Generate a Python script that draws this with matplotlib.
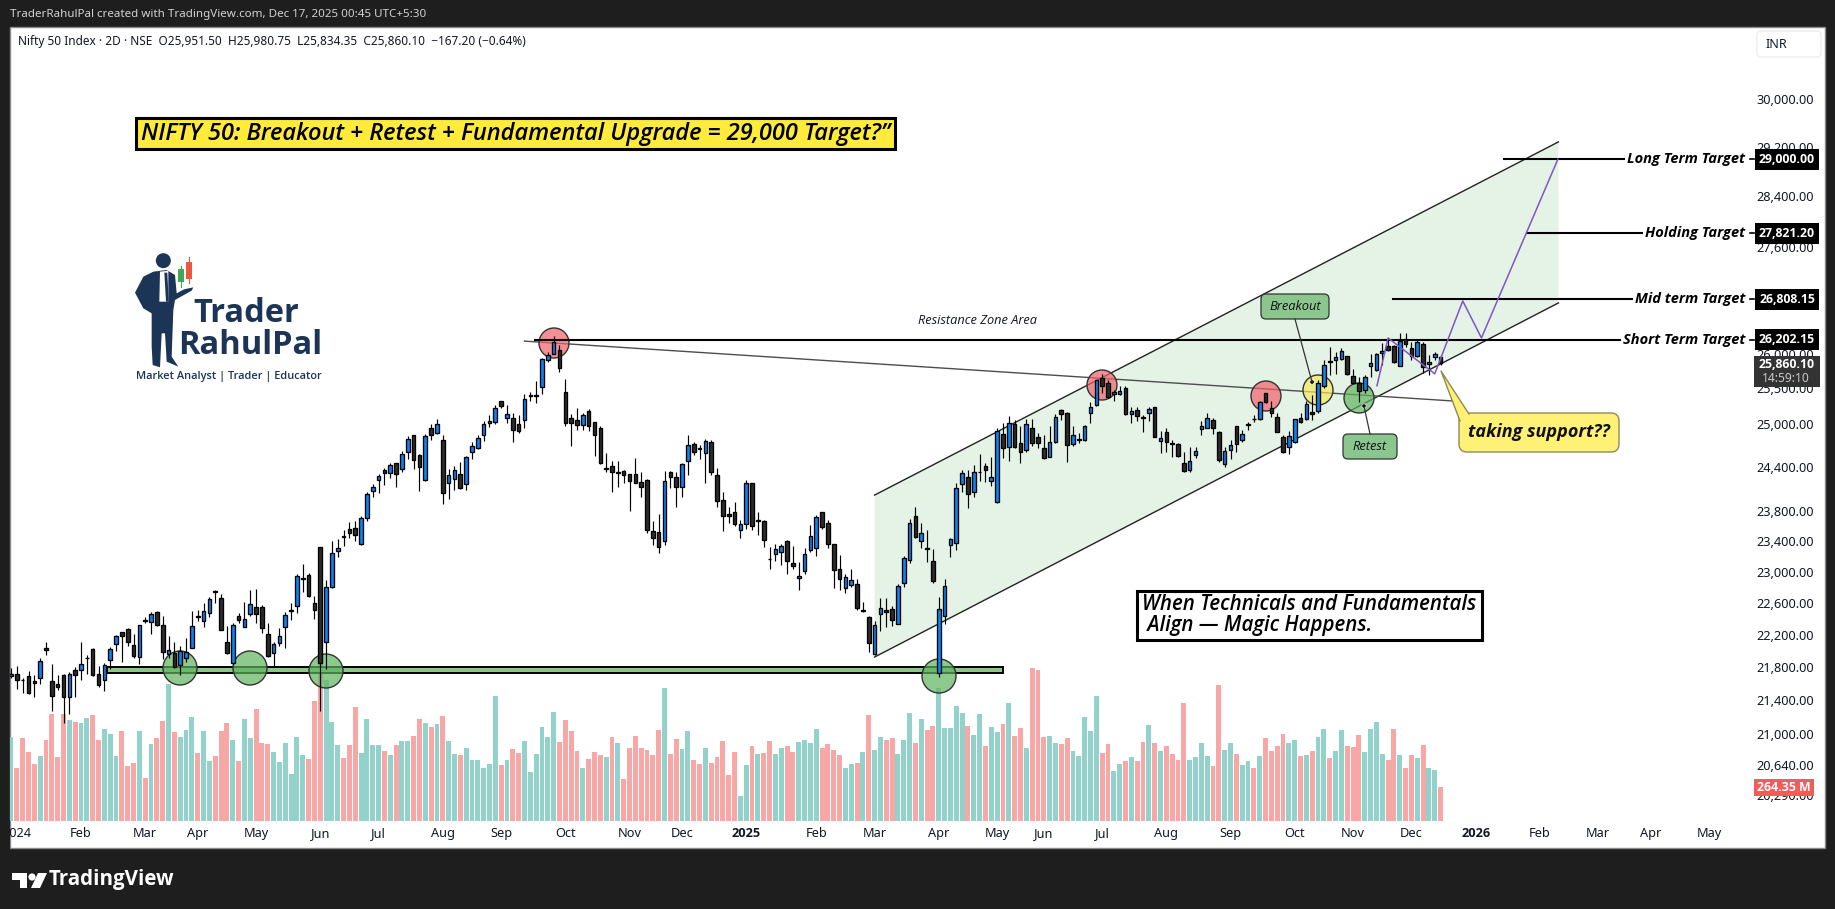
import matplotlib
matplotlib.use("Agg")
import matplotlib.pyplot as plt
import numpy as np
from matplotlib.patches import Circle, Ellipse, FancyBboxPatch, Polygon, Rectangle
from matplotlib.transforms import blended_transform_factory

W, H = 1835, 909
BASE_FONT = ["Noto Sans", "DejaVu Sans"]
NOTE_FONT = ["Open Sans", "DejaVu Sans"]

opens = [
    21700, 21716, 21651, 21691, 21630, 21667, 22034, 21630, 21594, 21704,
    21435, 21765, 21765, 21911, 22021, 21716, 21643, 21887, 22084, 22235,
    22272, 22071, 21923, 22393, 22360, 22485, 22322, 21960, 21972, 21826,
    21911, 22034, 22435, 22372, 22473, 22756, 22661, 22109, 21850, 22435,
    22297, 22460, 22548, 22548, 22210, 21972, 22097, 22297, 22498, 22561,
    22911, 22958, 22598, 23320, 22109, 22803, 23268, 23471, 23559, 23572,
    23360, 23705, 24067, 24217, 24353, 24312, 24449, 24367, 24599, 24837,
    24558, 24217, 24935, 24865, 24767, 24176, 24231, 24299, 24162, 24608,
    24664, 24837, 25001, 25019, 25314, 25071, 25076, 24991, 25043, 25396,
    25396, 25512, 25905, 25992, 26049, 25444, 25076, 25048, 24977, 25174,
    25019, 24935, 24363, 24408, 24317, 24340, 24299, 24299, 24190, 24217,
    23533, 23520, 23400, 24326, 24258, 24122, 24476, 24711, 24655, 24585,
    24739, 24285, 23945, 23759, 23785, 23546, 23626, 24176, 23670, 23666,
    23173, 23229, 23255, 23400, 23113, 22920, 23010, 23281, 23307, 23785,
    23639, 23360, 23036, 22790, 22829, 22842, 22498, 22423, 21960, 22460,
    22510, 22523, 22335, 22855, 23156, 23736, 23405, 23312, 23143, 21732,
    22440, 23351, 23378, 24171, 24258, 24053, 24322, 24408, 24212, 23918,
    24851, 24678, 24991, 24725, 24626, 24935, 24809, 24655, 24540, 24739,
    25188, 25146, 24711, 24776, 24767, 25155, 25258, 25646, 25574, 25420,
    25411, 25502, 25132, 25188, 25094, 25141, 25230, 24762, 24879, 24725,
    24711, 24449, 24349, 24567, 24917, 24944, 25048, 24879, 24444, 24636,
    24963, 24772, 24977, 25066, 25062, 25425, 25216, 25090, 24809, 24669,
    24739, 25076, 25057, 25160, 25174, 25526, 25891, 25915, 25920, 25961,
    25680, 25574, 25478, 25814, 25757, 26006, 26116, 26111, 25819, 26220,
    26076, 25961, 26136, 25848, 25958, 25951.5,
]
closes = [
    21716, 21643, 21643, 21492, 21606, 21875, 22009, 21447, 21557, 21435,
    21716, 21704, 21838, 21919, 21704, 21590, 21826, 22021, 22184, 22193,
    22109, 21936, 22322, 22381, 22460, 22322, 21985, 22009, 21801, 21997,
    21985, 22310, 22427, 22498, 22649, 22747, 22260, 21972, 22322, 22385,
    22397, 22586, 22460, 22285, 21936, 22084, 22184, 22448, 22510, 22945,
    22920, 22687, 22510, 21858, 22803, 23242, 23307, 23453, 23506, 23480,
    23705, 24027, 24121, 24272, 24312, 24422, 24299, 24572, 24781, 24490,
    24394, 24823, 24837, 24991, 24039, 24285, 24353, 24117, 24535, 24683,
    24795, 24991, 25033, 25216, 25253, 25132, 24916, 24902, 25344, 25401,
    25401, 25920, 25987, 26168, 25790, 25005, 25001, 24977, 25118, 24963,
    24837, 24458, 24381, 24322, 24326, 24281, 24199, 24185, 24122, 23546,
    23440, 23329, 24204, 24258, 24122, 24435, 24697, 24599, 24645, 24753,
    24322, 23931, 23732, 23732, 23626, 23626, 24176, 23599, 23679, 23413,
    23165, 23293, 23333, 23139, 23074, 22945, 23229, 23466, 23719, 23585,
    23360, 23023, 22907, 22932, 22893, 22536, 22519, 22097, 22322, 22536,
    22485, 22385, 22816, 23177, 23643, 23456, 23510, 23302, 22885, 22528,
    22821, 23431, 24108, 24312, 24026, 24326, 24326, 24362, 24258, 24902,
    24655, 25001, 24669, 24599, 24991, 24734, 24734, 24526, 24739, 25090,
    25132, 24697, 24837, 24785, 24963, 25230, 25617, 25531, 25382, 25444,
    25459, 25132, 25174, 25104, 25080, 25202, 24818, 24804, 24748, 24720,
    24553, 24344, 24476, 24613, 24963, 25076, 24944, 24490, 24613, 24697,
    24720, 24851, 24996, 25057, 25309, 25309, 25155, 24879, 24608, 24823,
    25057, 25019, 25272, 25132, 25574, 25833, 25882, 25949, 26040, 25704,
    25574, 25459, 25666, 25862, 25992, 26040, 26049, 25872, 26186, 26146,
    25966, 26166, 25800, 25886, 26001, 25860.1,
]
highs = [
    21789, 21818, 21667, 21757, 21708, 21911, 22109, 21838, 21708, 21720,
    21744, 21801, 22109, 21952, 22034, 21818, 21850, 22046, 22197, 22235,
    22285, 22210, 22326, 22423, 22485, 22506, 22439, 22184, 22113, 22063,
    22159, 22502, 22515, 22598, 22674, 22769, 22713, 22314, 22356, 22473,
    22611, 22769, 22782, 22577, 22347, 22109, 22285, 22485, 22598, 22971,
    23104, 22984, 22687, 23320, 22898, 23400, 23431, 23550, 23652, 23666,
    23732, 24063, 24162, 24299, 24381, 24449, 24449, 24613, 24823, 24837,
    24572, 24851, 24991, 25062, 24837, 24367, 24408, 24463, 24549, 24739,
    24842, 25038, 25122, 25263, 25314, 25263, 25146, 25118, 25420, 25444,
    25608, 25934, 26020, 26263, 26124, 25632, 25132, 25216, 25146, 25207,
    25024, 24963, 24585, 24481, 24481, 24358, 24299, 24517, 24326, 24231,
    23670, 23763, 24344, 24344, 24326, 24458, 24842, 24739, 24701, 24781,
    24767, 24381, 24054, 23860, 23918, 23679, 24222, 24176, 23789, 23679,
    23320, 23369, 23369, 23413, 23333, 23126, 23307, 23616, 23745, 23785,
    23679, 23369, 23216, 22971, 23036, 22907, 22615, 22435, 22372, 22662,
    22662, 22561, 22842, 23203, 23696, 23856, 23643, 23550, 23298, 22679,
    22911, 23444, 24176, 24349, 24358, 24426, 24576, 24449, 24540, 24935,
    25005, 25108, 25052, 24959, 25062, 25062, 24865, 24842, 24959, 25136,
    25202, 25169, 24968, 24865, 24973, 25300, 25622, 25704, 25622, 25478,
    25526, 25526, 25239, 25239, 25122, 25239, 25239, 24889, 24935, 24772,
    24725, 24608, 24678, 24678, 25029, 25146, 25076, 24889, 24678, 24772,
    24968, 24912, 25019, 25122, 25319, 25430, 25319, 25146, 24842, 24889,
    25062, 25146, 25324, 25406, 25622, 25910, 26101, 26030, 26078, 25966,
    25781, 25661, 25694, 25996, 26006, 26151, 26225, 26126, 26310, 26310,
    26176, 26200, 26176, 25982, 26030, 25980.75,
]
lows = [
    21667, 21537, 21492, 21476, 21443, 21594, 21952, 21277, 21525, 21126,
    21237, 21443, 21647, 21720, 21700, 21565, 21516, 21785, 22005, 21871,
    22067, 21911, 21846, 22347, 22214, 22314, 21899, 21911, 21789, 21704,
    21871, 22034, 22381, 22297, 22423, 22607, 22260, 21964, 21826, 22347,
    22297, 22435, 22347, 22222, 21923, 21801, 22059, 22042, 22393, 22473,
    22739, 22674, 22402, 21277, 21785, 22790, 23199, 23333, 23440, 23400,
    23347, 23666, 23985, 24049, 24153, 24240, 24130, 24326, 24504, 24367,
    24067, 24203, 24767, 24851, 23891, 23958, 24081, 24099, 24085, 24513,
    24645, 24762, 24954, 24991, 25225, 25005, 24748, 24874, 24931, 25319,
    25286, 25420, 25872, 25992, 25732, 24959, 24692, 24912, 24912, 24902,
    24554, 24444, 24335, 24058, 24131, 24172, 23807, 24176, 23995, 23506,
    23347, 23251, 23356, 24117, 23860, 23995, 24290, 24563, 24504, 24176,
    24294, 23860, 23533, 23648, 23595, 23449, 23559, 23546, 23489, 23329,
    23044, 23139, 23096, 22971, 23044, 22773, 22971, 23255, 23212, 23559,
    23307, 22790, 22765, 22726, 22803, 22510, 22485, 21993, 21952, 22247,
    22306, 22318, 22335, 22803, 23117, 23444, 23312, 23130, 22860, 21684,
    22340, 23195, 23285, 24062, 23843, 23994, 24199, 24194, 24144, 23914,
    24526, 24485, 24655, 24458, 24608, 24692, 24664, 24503, 24531, 24725,
    25052, 24472, 24692, 24725, 24757, 25001, 25249, 25430, 25357, 25324,
    25406, 25122, 25001, 25029, 24875, 25029, 24809, 24594, 24599, 24540,
    24531, 24335, 24335, 24517, 24842, 24935, 24856, 24472, 24403, 24508,
    24608, 24748, 24912, 25015, 25052, 25286, 25090, 24875, 24594, 24576,
    24734, 25005, 25052, 25043, 25155, 25502, 25694, 25709, 25910, 25694,
    25555, 25309, 25430, 25661, 25742, 25838, 26044, 25862, 25814, 26101,
    25910, 25956, 25723, 25685, 25910, 25834.35,
]
volumes = [
    650, 409, 642, 534, 440, 502, 627, 829, 495, 834,
    782, 767, 759, 798, 821, 627, 712, 673, 502, 697,
    425, 448, 697, 332, 596, 642, 774, 1062, 689, 650,
    704, 805, 526, 697, 464, 502, 697, 759, 627, 464,
    790, 642, 868, 603, 596, 534, 456, 603, 363, 650,
    510, 479, 930, 1248, 1093, 767, 588, 487, 588, 883,
    526, 790, 588, 588, 541, 510, 588, 619, 619, 658,
    790, 759, 728, 751, 813, 619, 518, 510, 567, 474,
    474, 412, 443, 971, 435, 474, 559, 528, 622, 381,
    521, 730, 653, 847, 614, 785, 699, 544, 412, 482,
    536, 513, 497, 653, 606, 326, 567, 660, 567, 552,
    513, 707, 1033, 521, 637, 559, 699, 474, 443, 567,
    451, 497, 622, 357, 536, 194, 435, 583, 521, 528,
    622, 521, 567, 583, 536, 614, 629, 606, 715, 567,
    598, 552, 513, 412, 443, 451, 536, 824, 552, 653,
    629, 645, 521, 629, 839, 606, 793, 707, 738, 1033,
    723, 723, 894, 839, 738, 668, 831, 583, 730, 692,
    754, 917, 660, 723, 567, 1189, 1173, 653, 660, 606,
    598, 645, 544, 505, 808, 699, 971, 528, 598, 389,
    443, 466, 497, 466, 614, 746, 606, 544, 583, 521,
    474, 917, 474, 497, 606, 505, 427, 1057, 552, 606,
    521, 435, 466, 412, 505, 645, 544, 583, 676, 606,
    629, 505, 513, 544, 653, 715, 490, 544, 707, 583,
    575, 668, 536, 715, 769, 521, 474, 715, 513, 412,
    513, 490, 591, 412, 396, 264.35,
]

price_ticks = [30000, 29200, 28400, 27600, 26000, 25500, 25000, 24400, 23800,
               23400, 23000, 22600, 22200, 21800, 21400, 21000, 20640, 20290]
time_ticks = [1, 12, 23, 32, 42, 53, 63, 74, 84, 95, 106, 115, 126, 138, 148, 159,
              169, 177, 187, 198, 209, 220, 230, 240, 251, 262, 272, 281, 291]
time_labels = ["2024", "Feb", "Mar", "Apr", "May", "Jun", "Jul", "Aug", "Sep", "Oct",
               "Nov", "Dec", "2025", "Feb", "Mar", "Apr", "May", "Jun", "Jul", "Aug",
               "Sep", "Oct", "Nov", "Dec", "2026", "Feb", "Mar", "Apr", "May"]

target_names = ["Long Term Target", "Holding Target", "Mid term Target", "Short Term Target"]
target_prices = [29000.00, 27821.20, 26808.15, 26202.15]
target_starts = [255.9, 259.8, 236.9, 89.8]
target_ends = [276.4, 279.5, 277.8, 275.7]

channel_x = [148, 265.2, 265.2, 148]
channel_y = [24015, 29284, 26752, 21927]
slant_x = [88, 247]
slant_y = [26184, 25319]
zone_x = [16.5, 170]
zone_y = [21730, 21803]
path_x = [234.1, 236, 244, 248.8, 252, 265.1]
path_y = [25536, 26231, 25708, 26782, 26231, 29000]

fig = plt.figure(figsize=(W / 100, H / 100), dpi=100, facecolor="#1e1e1e")
plt.rcParams["font.family"] = BASE_FONT


def box(left, top, right, bottom):
    return [left / W, (H - bottom) / H, (right - left) / W, (bottom - top) / H]


def pixel_axes(z):
    a = fig.add_axes([0, 0, 1, 1], zorder=z, facecolor="none")
    a.set_xlim(0, W)
    a.set_ylim(H, 0)
    a.axis("off")
    return a


back = pixel_axes(0)
back.add_patch(Rectangle((10, 27), 1815, 821, fc="white", ec="#8a8a8a", lw=1))
front = pixel_axes(4)
# hides the part of the first time label that runs off the panel
front.add_patch(Rectangle((0, 820), 9.5, 30, fc="#1e1e1e", ec="none"))

LEFT, TOP, RIGHT, BOTTOM = 10, 27, 1752, 821
x_limits = (-0.171, 298.37)

vol_ax = fig.add_axes(box(LEFT, TOP, RIGHT, BOTTOM), zorder=1, facecolor="none")
vol_ax.set_xlim(*x_limits)
vol_ax.set_ylim(0, 6173)
vol_ax.axis("off")

ax = fig.add_axes(box(LEFT, TOP, RIGHT, BOTTOM), zorder=2, facecolor="none")
ax.set_yscale("log")
ax.set_xlim(*x_limits)
ax.set_ylim(19998, 31236)
for spine in ax.spines.values():
    spine.set_visible(False)

idx = np.arange(len(opens))
o = np.array(opens, dtype=float)
c = np.array(closes, dtype=float)
up = c >= o

vol_ax.bar(idx, volumes, width=0.84, color=np.where(up, "#92d2cb", "#f7a8a6"), lw=0)

body_low = np.minimum(o, c)
body_high = np.maximum(o, c)
ax.vlines(idx, lows, highs, color="black", lw=0.85, zorder=6)
ax.bar(idx, body_high - body_low, bottom=body_low, width=0.62,
       color=np.where(up, "#0a84f5", "#2b2b2b"), edgecolor="black", lw=0.95, zorder=7)

# channel, trend lines and the support zone
ax.add_patch(Polygon(np.column_stack([channel_x, channel_y]), closed=True,
                     fc="#e5f3e6", ec="none", zorder=1))
ax.plot(channel_x[:2], channel_y[:2], color="#222222", lw=1.0, zorder=3)
ax.plot(channel_x[3:1:-1], channel_y[3:1:-1], color="#222222", lw=1.0, zorder=3)
ax.plot(slant_x, slant_y, color="#4d4d4d", lw=1.0, zorder=3)
ax.add_patch(Rectangle((zone_x[0], zone_y[0]), zone_x[1] - zone_x[0], zone_y[1] - zone_y[0],
                       fc="#8ac987", ec="black", lw=1.4, zorder=3))
ax.plot(path_x, path_y, color="#7e57c2", lw=1.1, zorder=8)

for name, price, start, end in zip(target_names, target_prices, target_starts, target_ends):
    ax.plot([start, end], [price, price], color="black", lw=1.5, zorder=5)

px = front.transData
for cx, cy, r, fill in [(180, 668, 17, "#5fb35f"), (250, 668, 17, "#5fb35f"),
                        (326, 671, 17, "#5fb35f"), (939, 676, 17, "#5fb35f"),
                        (554, 343, 15, "#f0606a"), (1102, 385, 15, "#f0606a"),
                        (1266, 396, 15, "#f0606a"), (1318, 390, 15, "#f5e85a"),
                        (1359, 398, 15, "#5fb35f")]:
    ax.add_patch(Ellipse((cx, cy), 2 * r, 2 * r, transform=px, fc=fill, alpha=0.7,
                         ec="none", zorder=4, clip_on=False))
    ax.add_patch(Ellipse((cx, cy), 2 * r, 2 * r, transform=px, fc="none", ec="#333333",
                         lw=1.0, zorder=4, clip_on=False))

# axes labels
ax.yaxis.tick_right()
ax.set_yticks(price_ticks)
ax.set_yticklabels([f"{p:,.2f}" for p in price_ticks], ha="right", fontsize=9.2, color="#131722")
ax.minorticks_off()
ax.tick_params(axis="y", length=0, pad=44.5)
ax.set_xticks(time_ticks)
ax.set_xticklabels(time_labels, fontsize=9.2, color="#131722")
ax.tick_params(axis="x", length=0, pad=4.5)
for label in ax.get_xticklabels():
    if label.get_text() in ("2025", "2026"):
        label.set_family(NOTE_FONT)
        label.set_fontweight("bold")

# header, legend and footer
back.text(10, 15, "TraderRahulPal created with TradingView.com, Dec 17, 2025 00:45 UTC+5:30",
          color="#d1d1d1", fontsize=8.35, va="center")
front.text(18, 41, "Nifty 50 Index · 2D · NSE  O25,951.50  H25,980.75  L25,834.35  C25,860.10  −167.20 (−0.64%)",
           color="#131722", fontsize=8.5, va="center")
front.add_patch(FancyBboxPatch((1759, 33), 60, 22, boxstyle="round,pad=2,rounding_size=4",
                               fc="white", ec="#eeeeee", lw=1))
front.text(1766, 45, "INR", color="#131722", fontsize=9, va="center")

front.add_patch(Polygon([(12, 873), (27, 873), (27, 888), (20, 888), (20, 880), (12, 880)], fc="white"))
front.add_patch(Circle((32, 877), 3.6, fc="white"))
front.add_patch(Polygon([(38, 873), (47, 873), (40, 888), (31, 888)], fc="white"))
front.text(49, 880, "TradingView", color="white", fontsize=14.8, fontweight="bold", family=NOTE_FONT,
           va="center")

# price tags on the right scale
y_price = blended_transform_factory(front.transData, ax.transData)
for name, price in zip(target_names, target_prices):
    front.text(1787, price, f"{price:,.2f}", transform=y_price, color="white", fontsize=8.8,
               fontweight="bold", family=NOTE_FONT, ha="center", va="center",
               bbox=dict(boxstyle="square,pad=0.32", fc="black", ec="black", lw=0))
    front.plot([1750, 1754], [price, price], transform=y_price, color="black", lw=1.2)
    front.text(1745, price, name, transform=y_price, color="black", fontsize=10.5, style="italic",
               fontweight="bold", family=NOTE_FONT, ha="right", va="center")

front.add_patch(Rectangle((1754, 356), 66, 31, fc="#333333", ec="none"))
front.text(1787, 365, f"{closes[-1]:,.2f}", color="white", fontsize=8.8, fontweight="bold",
           family=NOTE_FONT, ha="center", va="center")
front.text(1762, 378, "14:59:10", color="#c8c8c8", fontsize=8.6, va="center")
front.add_patch(Rectangle((1754, 779), 60, 17, fc="#f45b5b", ec="none"))
front.text(1784, 787.5, f"{volumes[-1]:.2f} M", color="white", fontsize=8.8, fontweight="bold",
           family=NOTE_FONT, ha="center", va="center")

# headline and notes
front.add_patch(Rectangle((136, 118), 759, 31, fc="#ffeb3b", ec="black", lw=2.2))
front.text(141, 134, "NIFTY 50: Breakout + Retest + Fundamental Upgrade = 29,000 Target?”",
           fontsize=17, style="italic", fontweight="semibold", family=NOTE_FONT, va="center")
front.add_patch(Rectangle((1137, 591), 345, 49, fc="white", ec="black", lw=2.2))
front.text(1142, 605, "When Technicals and Fundamentals", fontsize=14.8, style="italic",
           fontweight="semibold", family=NOTE_FONT, va="center")
front.text(1142, 626, " Align — Magic Happens.", fontsize=14.8, style="italic",
           fontweight="semibold", family=NOTE_FONT, va="center")
front.text(977, 321, "Resistance Zone Area", fontsize=9.2, style="italic", family=NOTE_FONT,
           ha="center", va="center", color="#131722")

for left, top, right, bottom, text, tip_a, tip_b in [
    (1261, 294, 1329, 319, "Breakout", (1295, 319), (1312, 382)),
    (1343, 434, 1397, 459, "Retest", (1370, 434), (1364, 406)),
]:
    front.plot([tip_a[0], tip_b[0]], [tip_a[1], tip_b[1]], color="#333333", lw=0.9)
    front.add_patch(Circle(tip_b, 2.2, fc="black", ec="white", lw=0.5))
    front.add_patch(FancyBboxPatch((left + 4, top + 4), right - left - 8, bottom - top - 8,
                                   boxstyle="round,pad=4,rounding_size=5", fc="#8cc68f",
                                   ec="#333333", lw=0.9))
    front.text((left + right) / 2, (top + bottom) / 2, text, fontsize=9.3, style="italic",
               family=NOTE_FONT, ha="center", va="center", color="#111111")

front.add_patch(FancyBboxPatch((1467, 421), 144, 23, boxstyle="round,pad=8,rounding_size=8",
                               fc="#fff176", ec="#8d8a5a", lw=1.0))
front.add_patch(Polygon([(1441, 371), (1469, 414), (1460, 421)], fc="#fff176", ec="none"))
front.plot([1460, 1441, 1469], [421, 371, 414], color="#8d8a5a", lw=1.0)
front.text(1539, 432, "taking support??", fontsize=13, style="italic", fontweight="bold",
           family=NOTE_FONT, ha="center", va="center", color="#111111")

# logo
NAVY = "#1c3557"
def lg(points):
    return [(110 + a / 3, 230 + b / 3) for a, b in points]
front.add_patch(Polygon(lg([(130, 125), (100, 140), (75, 188), (100, 235), (125, 250), (125, 350),
                            (128, 405), (150, 412), (155, 310), (165, 310), (170, 395), (205, 410),
                            (185, 380), (190, 240), (195, 210), (245, 182), (250, 172), (222, 178),
                            (200, 190), (195, 135), (170, 120)]), fc=NAVY, ec="none"))
front.add_patch(Circle((110 + 160 / 3, 230 + 92 / 3), 7.5, fc=NAVY, ec="none"))
front.add_patch(Polygon(lg([(150, 125), (175, 122), (175, 215), (148, 215)]), fc="white", ec="none"))
front.add_patch(Polygon(lg([(163, 128), (172, 128), (176, 215), (168, 215)]), fc=NAVY, ec="none"))
front.plot([110 + 213 / 3] * 2, [230 + 108 / 3, 230 + 170 / 3], color="#43a853", lw=0.8)
front.add_patch(Rectangle((110 + 205 / 3, 230 + 118 / 3), 6, 13, fc="#43a853", ec="none"))
front.plot([110 + 236 / 3] * 2, [230 + 82 / 3, 230 + 158 / 3], color="#e9583f", lw=0.8)
front.add_patch(Rectangle((110 + 228 / 3, 230 + 97 / 3), 6, 17, fc="#e9583f", ec="none"))
front.text(246, 313, "Trader", color=NAVY, fontsize=23.5, fontweight="bold", family=NOTE_FONT,
           ha="center", va="center")
front.text(250, 345, "RahulPal", color=NAVY, fontsize=23.5, fontweight="bold", family=NOTE_FONT,
           ha="center", va="center")
front.text(229, 377, "Market Analyst | Trader | Educator", color=NAVY, fontsize=7.9,
           fontweight="semibold", family=NOTE_FONT, ha="center", va="center")

fig.savefig("out.png", dpi=100, facecolor=fig.get_facecolor())
